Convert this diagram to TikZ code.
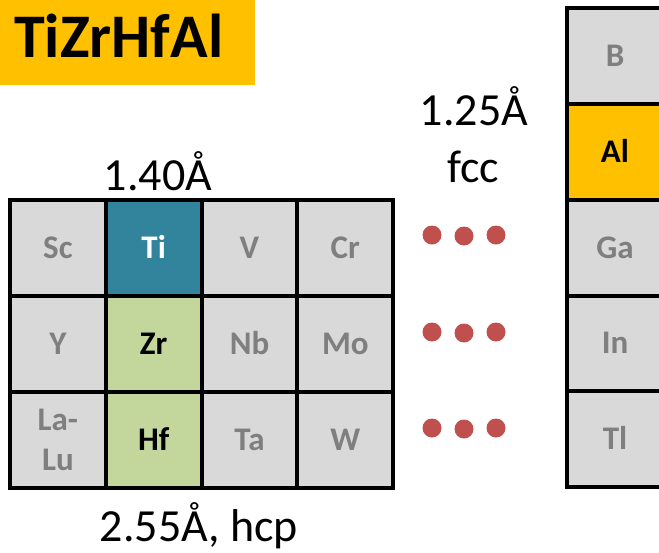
\documentclass[tikz,border=0pt]{standalone}
\usepackage{fontspec}
\setmainfont{Carlito}
\definecolor{cellgray}{HTML}{D9D9D9}
\definecolor{labelgray}{HTML}{7F7F7F}
\definecolor{tealcell}{HTML}{31849B}
\definecolor{greencell}{HTML}{C3D69B}
\definecolor{amber}{HTML}{FFC000}
\definecolor{dotred}{HTML}{C0504D}
\begin{document}
\begin{tikzpicture}[x=1pt,y=-1pt,
  cell/.style={draw=black, line width=4pt, fill=cellgray,
    minimum width=95.8pt, minimum height=95.8pt, inner sep=0pt,
    font=\fontsize{33}{36}\selectfont\bfseries, text=labelgray,
    text height=21pt, text depth=0pt},
  label/.style={font=\fontsize{46}{50}\selectfont, inner sep=0pt, anchor=base},
  dot/.style={circle, fill=dotred, minimum size=19pt, inner sep=0pt}]
\useasboundingbox (0,0) rectangle (659,552);

% title banner
\node[fill=amber, anchor=north west, minimum width=255pt, minimum height=85pt, inner sep=0pt] (banner) at (0,0) {};
\node[font=\fontsize{62}{66}\selectfont\bfseries, anchor=base west, inner sep=0pt] (title) at (14,57) {TiZrHfAl};

% transition metal block
\node[cell] (sc) at (57.9,248) {Sc};
\node[cell, fill=tealcell, text=white] (ti) at (153.7,248) {Ti};
\node[cell] (v)  at (249.5,248) {V};
\node[cell] (cr) at (345.3,248) {Cr};
\node[cell] (y)  at (57.9,344) {Y};
\node[cell, fill=greencell, text=black] (zr) at (153.7,344) {Zr};
\node[cell] (nb) at (249.5,344) {Nb};
\node[cell] (mo) at (345.3,344) {Mo};
\node[cell, align=center, text height=, text depth=, font=\fontsize{33}{40}\selectfont\bfseries] (lalu) at (57.9,440) {La-\\Lu};
\node[cell, fill=greencell, text=black] (hf) at (153.7,440) {Hf};
\node[cell] (ta) at (249.5,440) {Ta};
\node[cell] (w)  at (345.3,440) {W};

% group 13 column
\node[cell] (b)  at (615,56) {B};
\node[cell, fill=amber, text=black] (al) at (615,151.8) {Al};
\node[cell] (ga) at (615,247.6) {Ga};
\node[cell] (in) at (615,343.4) {In};
\node[cell] (tl) at (615,439.2) {Tl};

% radii and structures
\node[label] (rti) at (158,190) {1.40Å};
\node[label] (rhf) at (199,541) {2.55Å, hcp};
\node[label] (ral) at (474,125) {1.25Å};
\node[label] (fcc) at (473,182) {fcc};

% ellipses between the blocks
\foreach \r/\yy in {1/235, 2/332, 3/428} {
  \node[dot] (d\r a) at (432,\yy) {};
  \node[dot] (d\r b) at (464,\yy+1) {};
  \node[dot] (d\r c) at (496,\yy) {};
}
\end{tikzpicture}
\end{document}
